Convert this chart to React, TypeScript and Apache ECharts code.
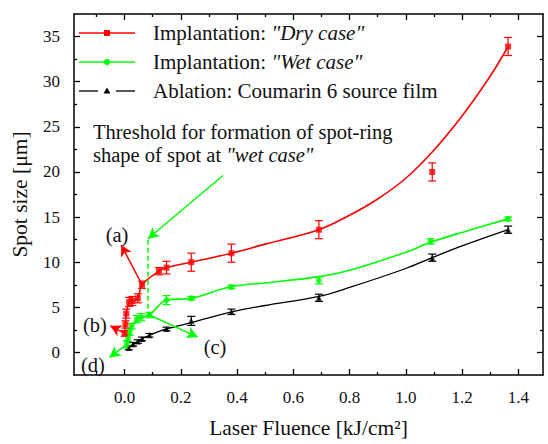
import React, { useEffect, useRef } from "react";
import * as echarts from "echarts";

// ---- data ----
const dryX = [0.0, 0.003, 0.006, 0.016, 0.028, 0.047, 0.062, 0.122, 0.149, 0.237, 0.38, 0.691, 1.094, 1.364];
const dryY = [2.1, 3.1, 4.3, 5.6, 5.7, 6.0, 7.5, 9.0, 9.4, 10.0, 11.0, 13.6, 20.0, 33.9];
const dryErr = [0.3, 0.4, 0.5, 0.5, 0.5, 0.5, 0.4, 0.4, 0.7, 1.0, 1.0, 1.0, 1.0, 1.0];

const wetX = [0.008, 0.012, 0.018, 0.025, 0.044, 0.059, 0.088, 0.149, 0.237, 0.38, 0.691, 1.088, 1.364];
const wetY = [0.9, 1.6, 2.2, 2.9, 3.7, 3.9, 4.15, 5.8, 6.0, 7.25, 8.0, 12.3, 14.8];
const wetErr = [0.4, 0.4, 0.3, 0.3, 0.4, 0.4, 0.3, 0.5, 0.2, 0.2, 0.4, 0.3, 0.2];

const ablX = [0.015, 0.03, 0.047, 0.062, 0.088, 0.149, 0.237, 0.38, 0.691, 1.094, 1.364];
const ablY = [0.5, 0.9, 1.2, 1.5, 1.9, 2.6, 3.5, 4.5, 6.05, 10.5, 13.6];
const ablErr = [0.2, 0.2, 0.2, 0.2, 0.2, 0.2, 0.5, 0.3, 0.4, 0.4, 0.4];

// fitted curves as drawn in the picture
const dryFitX = [0.0, 0.003, 0.006, 0.016, 0.028, 0.047, 0.062, 0.122, 0.149, 0.237, 0.38, 0.5, 0.691, 0.8, 0.9, 1.0, 1.094, 1.2, 1.3, 1.364];
const dryFitY = [2.1, 3.1, 4.3, 5.6, 5.7, 6.0, 7.5, 9.0, 9.4, 10.0, 11.0, 12.0, 13.6, 15.2, 17.0, 19.3, 22.2, 26.2, 30.6, 33.9];
const wetFitX = [0.008, 0.012, 0.018, 0.025, 0.044, 0.059, 0.088, 0.149, 0.237, 0.38, 0.5, 0.691, 0.8, 1.0, 1.088, 1.2, 1.364];
const wetFitY = [0.9, 1.6, 2.2, 2.9, 3.7, 3.9, 4.15, 5.8, 6.0, 7.3, 7.7, 8.4, 9.1, 11.1, 12.2, 13.3, 14.8];
const ablFitX = [0.015, 0.03, 0.047, 0.062, 0.088, 0.149, 0.237, 0.38, 0.5, 0.691, 0.8, 1.0, 1.094, 1.2, 1.364];
const ablFitY = [0.5, 0.9, 1.2, 1.5, 1.9, 2.6, 3.3, 4.5, 5.2, 6.2, 7.2, 9.3, 10.5, 11.8, 13.6];

const xMajor = [0, 0.2, 0.4, 0.6, 0.8, 1.0, 1.2, 1.4];
const xMinor = [-0.1, 0.1, 0.3, 0.5, 0.7, 0.9, 1.1, 1.3];
const yMajor = [0, 5, 10, 15, 20, 25, 30, 35];
const yMinor = [2.5, 7.5, 12.5, 17.5, 22.5, 27.5, 32.5];

const X_MIN = -0.18;
const X_MAX = 1.488;
const Y_MIN = -2.5;
const Y_MAX = 37.5;

const RED = "#ff0000";
const GREEN = "#00ff00";
const BLACK = "#000000";
const FONT = "Liberation Serif";

function zip(xs: number[], ys: number[]) {
  return xs.map((x, i) => [x, ys[i]]);
}

function errSeries(xs: number[], ys: number[], es: number[], color: string) {
  return {
    type: "custom",
    silent: true,
    z: 3,
    data: xs.map((x, i) => [x, ys[i], es[i]]),
    encode: { x: 0, y: 1 },
    renderItem: (params: any, api: any) => {
      const x = api.value(0);
      const y = api.value(1);
      const e = api.value(2);
      const t = api.coord([x, y + e]);
      const b = api.coord([x, y - e]);
      const hw = 4;
      const st = { stroke: color, lineWidth: 1.2 };
      return {
        type: "group",
        children: [
          { type: "line", shape: { x1: t[0], y1: t[1], x2: b[0], y2: b[1] }, style: st },
          { type: "line", shape: { x1: t[0] - hw, y1: t[1], x2: t[0] + hw, y2: t[1] }, style: st },
          { type: "line", shape: { x1: b[0] - hw, y1: b[1], x2: b[0] + hw, y2: b[1] }, style: st },
        ],
      };
    },
  };
}

function xAxisDef(position: string, ticks: number[], len: number, showLine: boolean, showLabel: boolean, name?: string) {
  return {
    type: "value",
    min: X_MIN,
    max: X_MAX,
    position,
    name: name || "",
    nameLocation: "middle",
    nameGap: 42,
    nameTextStyle: { fontFamily: FONT, fontSize: 21.5, color: "#111" },
    axisLine: { show: showLine, onZero: false, lineStyle: { color: "#000", width: 1.5 } },
    axisTick: { show: true, inside: true, length: len, customValues: ticks, lineStyle: { color: "#000", width: 1.3 } },
    axisLabel: showLabel
      ? { show: true, customValues: ticks, margin: 14, fontFamily: FONT, fontSize: 17, color: "#111", formatter: (v: number) => v.toFixed(1) }
      : { show: false },
    splitLine: { show: false },
  };
}

function yAxisDef(position: string, ticks: number[], len: number, showLine: boolean, showLabel: boolean, name?: string) {
  return {
    type: "value",
    min: Y_MIN,
    max: Y_MAX,
    position,
    name: name || "",
    nameLocation: "middle",
    nameGap: 43,
    nameTextStyle: { fontFamily: FONT, fontSize: 21.5, color: "#111" },
    axisLine: { show: showLine, onZero: false, lineStyle: { color: "#000", width: 1.5 } },
    axisTick: { show: true, inside: true, length: len, customValues: ticks, lineStyle: { color: "#000", width: 1.3 } },
    axisLabel: showLabel
      ? { show: true, customValues: ticks, margin: 14, fontFamily: FONT, fontSize: 17, color: "#111", formatter: (v: number) => String(v) }
      : { show: false },
    splitLine: { show: false },
  };
}

const rich = {
  n: { fontFamily: FONT, fontSize: 21, fill: "#111" },
  i: { fontFamily: FONT, fontSize: 21, fontStyle: "italic", fill: "#111" },
};
const rich2 = {
  n: { fontFamily: FONT, fontSize: 20.5, fill: "#111" },
  i: { fontFamily: FONT, fontSize: 20.5, fontStyle: "italic", fill: "#111" },
};

export default function App() {
  const ref = useRef<HTMLDivElement>(null);
  useEffect(() => {
    const chart = echarts.init(ref.current!, null, { renderer: "svg" });
    const arrowLine = (color: string, pairs: number[][][]) => ({
      silent: true,
      symbol: ["none", "arrow"],
      symbolSize: [9, 11],
      label: { show: false },
      lineStyle: { color, width: 1.5, type: "solid" },
      data: pairs.map((p) => [{ coord: p[0] }, { coord: p[1] }]),
    });

    const option: any = {
      animation: false,
      backgroundColor: "#ffffff",
      grid: { left: 74, right: 5, top: 14, bottom: 64, containLabel: false },
      xAxis: [
        xAxisDef("bottom", xMajor, 6, true, true, "Laser Fluence [kJ/cm\u00b2]"),
        xAxisDef("bottom", xMinor, 3, false, false),
        xAxisDef("top", xMajor, 6, true, false),
        xAxisDef("top", xMinor, 3, false, false),
      ],
      yAxis: [
        yAxisDef("left", yMajor, 6, true, true, "Spot size [\u03bcm]"),
        yAxisDef("left", yMinor, 3, false, false),
        yAxisDef("right", yMajor, 6, true, false),
        yAxisDef("right", yMinor, 3, false, false),
      ],
      series: [
        {
          type: "line",
          data: zip(ablFitX, ablFitY),
          smooth: 0.35,
          showSymbol: false,
          symbol: "none",
          lineStyle: { color: BLACK, width: 1.3 },
          z: 2,
        },
        {
          type: "line",
          data: zip(wetFitX, wetFitY),
          smooth: 0.35,
          showSymbol: false,
          symbol: "none",
          lineStyle: { color: GREEN, width: 1.6 },
          z: 2,
          markLine: {
            ...arrowLine(GREEN, [
              [[0.35, 19.6], [0.083, 12.6]],
              [[0.088, 4.15], [0.26, 1.7]],
              [[0.008, 0.9], [-0.054, -0.55]],
            ]),
          },
        },
        {
          type: "line",
          data: [],
          showSymbol: false,
          symbol: "none",
          lineStyle: { color: GREEN, width: 1.5 },
          markLine: {
            silent: true,
            symbol: ["none", "none"],
            label: { show: false },
            lineStyle: { color: GREEN, width: 1.5, type: [5, 3] },
            data: [[{ coord: [0.083, 12.5] }, { coord: [0.083, 4.3] }]],
          },
        },
        {
          type: "line",
          data: zip(dryFitX, dryFitY),
          smooth: 0.35,
          showSymbol: false,
          symbol: "none",
          lineStyle: { color: RED, width: 1.6 },
          z: 2,
          markLine: {
            ...arrowLine(RED, [
              [[0.062, 7.5], [-0.012, 11.9]],
              [[-0.004, 2.2], [-0.051, 2.95]],
            ]),
          },
        },
        errSeries(ablX, ablY, ablErr, BLACK),
        errSeries(wetX, wetY, wetErr, GREEN),
        errSeries(dryX, dryY, dryErr, RED),
        { type: "scatter", data: zip(ablX, ablY), symbol: "triangle", symbolSize: 6, itemStyle: { color: BLACK }, z: 4, silent: true },
        { type: "scatter", data: zip(wetX, wetY), symbol: "circle", symbolSize: 6, itemStyle: { color: GREEN }, z: 4, silent: true },
        { type: "scatter", data: zip(dryX, dryY), symbol: "rect", symbolSize: 6, itemStyle: { color: RED }, z: 4, silent: true },
      ],
      graphic: [
        // legend
        { type: "line", shape: { x1: 79, y1: 33, x2: 135, y2: 33 }, style: { stroke: RED, lineWidth: 1.6 } },
        { type: "rect", shape: { x: 104, y: 30, width: 6, height: 6 }, style: { fill: RED } },
        { type: "text", x: 153, y: 33, style: { text: '{n|Implantation: }{i|"Dry case"}', rich, fill: "#111", verticalAlign: "middle" } },
        { type: "line", shape: { x1: 79, y1: 62, x2: 135, y2: 62 }, style: { stroke: GREEN, lineWidth: 1.6 } },
        { type: "circle", shape: { cx: 107, cy: 62, r: 3.2 }, style: { fill: GREEN } },
        { type: "text", x: 153, y: 62, style: { text: '{n|Implantation: }{i|"Wet case"}', rich, fill: "#111", verticalAlign: "middle" } },
        { type: "line", shape: { x1: 79, y1: 91, x2: 98, y2: 91 }, style: { stroke: BLACK, lineWidth: 1.3 } },
        { type: "line", shape: { x1: 116, y1: 91, x2: 135, y2: 91 }, style: { stroke: BLACK, lineWidth: 1.3 } },
        { type: "polygon", shape: { points: [[107, 87.5], [110.5, 93.5], [103.5, 93.5]] }, style: { fill: BLACK } },
        { type: "text", x: 153, y: 91, style: { text: "{n|Ablation: Coumarin 6 source film}", rich, fill: "#111", verticalAlign: "middle" } },
        // annotation text
        { type: "text", x: 93, y: 132, style: { text: "{n|Threshold for formation of spot-ring}", rich: rich2, fill: "#111", verticalAlign: "middle" } },
        { type: "text", x: 93, y: 155, style: { text: '{n|shape of spot at }{i|"wet case"}', rich: rich2, fill: "#111", verticalAlign: "middle" } },
        { type: "text", x: 117, y: 235, style: { text: "{n|(a)}", rich: rich2, fill: "#111", align: "center", verticalAlign: "middle" } },
        { type: "text", x: 95, y: 325, style: { text: "{n|(b)}", rich: rich2, fill: "#111", align: "center", verticalAlign: "middle" } },
        { type: "text", x: 215, y: 347, style: { text: "{n|(c)}", rich: rich2, fill: "#111", align: "center", verticalAlign: "middle" } },
        { type: "text", x: 93, y: 365, style: { text: "{n|(d)}", rich: rich2, fill: "#111", align: "center", verticalAlign: "middle" } },
      ],
    };
    chart.setOption(option);
    return () => chart.dispose();
  }, []);
  return <div ref={ref} style={{ position: "fixed", left: 0, top: 0, width: 548, height: 444, background: "#fff" }} />;
}
